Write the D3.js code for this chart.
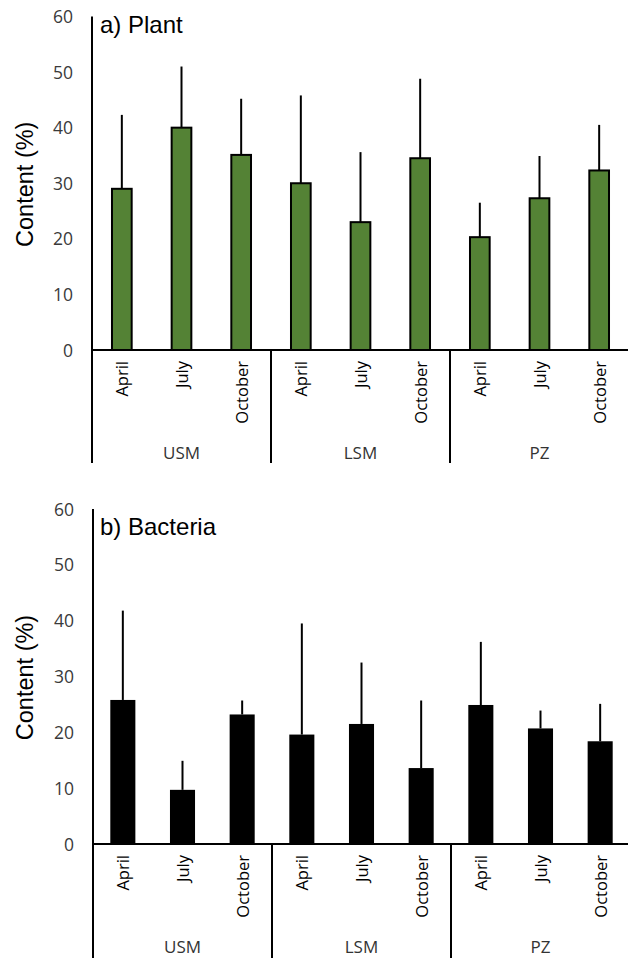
<!DOCTYPE html>
<html>
<head>
<meta charset="utf-8">
<script src="https://cdn.jsdelivr.net/npm/d3@7/dist/d3.min.js"></script>
<style>
  html, body { margin: 0; padding: 0; background: #fff; }
  svg { display: block; }
</style>
</head>
<body>
<svg id="chart" width="628" height="958"></svg>
<script>
// ---- data ----
const sites = ["USM", "LSM", "PZ"];
const months = ["April", "July", "October"];
const yTicks = [0, 10, 20, 30, 40, 50, 60];

// a) Plant: mean and upper error (SD)
const plantMean = [29.0, 40.0, 35.1, 30.0, 23.0, 34.5, 20.3, 27.3, 32.3];
const plantErr  = [13.3, 11.0, 10.1, 15.8, 12.6, 14.3, 6.2, 7.6, 8.2];

// b) Bacteria: mean and upper error (SD)
const bactMean = [25.8, 9.7, 23.2, 19.6, 21.5, 13.6, 24.9, 20.7, 18.4];
const bactErr  = [16.0, 5.2, 2.5, 19.9, 11.0, 12.1, 11.3, 3.2, 6.7];

const panels = [
  { title: "a) Plant", mean: plantMean, err: plantErr, fill: "#548235", stroke: "#000", strokeW: 2,
    top: 16.5, zero: 350, left: 92, bottom: 463, titleY: 33, barRatio: 0.33 },
  { title: "b) Bacteria", mean: bactMean, err: bactErr, fill: "#000", stroke: "#000", strokeW: 0,
    top: 509, zero: 844, left: 93, bottom: 958, titleY: 535, barRatio: 0.42 }
];

const svg = d3.select("#chart");
const groupW = 179;
const keys = [];
sites.forEach(s => months.forEach(m => keys.push(s + "|" + m)));

panels.forEach(p => {
  const g = svg.append("g");
  const right = p.left + groupW * sites.length;
  const y = d3.scaleLinear().domain([0, 60]).range([p.zero, p.top]);
  const x = d3.scaleBand().domain(keys).range([p.left, right]).paddingInner(0).paddingOuter(0);
  const xs = d3.scaleBand().domain(sites).range([p.left, right]);
  const bw = x.bandwidth() * p.barRatio;

  // y tick labels
  const yAxis = d3.axisLeft(y).tickValues(yTicks).tickSize(0).tickPadding(0);
  const ya = g.append("g").attr("transform", `translate(${p.left - 19},0)`).call(yAxis);
  ya.select(".domain").remove();
  ya.attr("font-size", null).attr("font-family", null);
  ya.selectAll("text")
    .style("font-family", "'Open Sans', sans-serif")
    .style("font-size", "17.5px")
    .attr("fill", "#3a3a3a")
    .attr("dy", "0.35em");

  // y axis title
  g.append("text")
    .attr("transform", `translate(${25},${(p.zero + p.top) / 2 + 1}) rotate(-90)`)
    .attr("text-anchor", "middle")
    .attr("dominant-baseline", "central")
    .attr("font-family", "'Liberation Sans', Arial, sans-serif")
    .attr("font-size", 23.5)
    .attr("fill", "#000")
    .text("Content (%)");

  // panel title
  g.append("text")
    .attr("x", 100).attr("y", p.titleY)
    .attr("font-family", "'Liberation Sans', Arial, sans-serif")
    .attr("font-size", 24)
    .attr("fill", "#000")
    .text(p.title);

  // error bars (upper only)
  g.selectAll("line.err").data(keys).join("line")
    .attr("class", "err")
    .attr("x1", d => x(d) + x.bandwidth() / 2)
    .attr("x2", d => x(d) + x.bandwidth() / 2)
    .attr("y1", (d, i) => y(p.mean[i]))
    .attr("y2", (d, i) => y(p.mean[i] + p.err[i]))
    .attr("stroke", "#000").attr("stroke-width", 2);

  // bars
  g.selectAll("rect.bar").data(keys).join("rect")
    .attr("class", "bar")
    .attr("x", d => x(d) + (x.bandwidth() - bw) / 2)
    .attr("width", bw)
    .attr("y", (d, i) => y(p.mean[i]))
    .attr("height", (d, i) => y(0) - y(p.mean[i]))
    .attr("fill", p.fill)
    .attr("stroke", p.strokeW ? p.stroke : "none")
    .attr("stroke-width", p.strokeW);

  // y axis line
  g.append("line")
    .attr("x1", p.left).attr("x2", p.left)
    .attr("y1", p.top).attr("y2", p.bottom)
    .attr("stroke", "#000").attr("stroke-width", 2);

  // baseline
  g.append("line")
    .attr("x1", p.left).attr("x2", 628)
    .attr("y1", y(0)).attr("y2", y(0))
    .attr("stroke", "#000").attr("stroke-width", 2);

  // group separators
  g.selectAll("line.sep").data(sites.slice(1)).join("line")
    .attr("class", "sep")
    .attr("x1", d => xs(d)).attr("x2", d => xs(d))
    .attr("y1", y(0)).attr("y2", p.bottom)
    .attr("stroke", "#000").attr("stroke-width", 2);

  // month labels
  g.selectAll("text.month").data(keys).join("text")
    .attr("class", "month")
    .attr("transform", d => `translate(${x(d) + x.bandwidth() / 2},${y(0) + 11}) rotate(-90)`)
    .attr("text-anchor", "end")
    .attr("dominant-baseline", "central")
    .attr("font-family", "'Open Sans', sans-serif")
    .attr("font-size", 16.5)
    .attr("fill", "#000")
    .text(d => d.split("|")[1]);

  // site labels
  g.selectAll("text.site").data(sites).join("text")
    .attr("class", "site")
    .attr("x", d => xs(d) + xs.bandwidth() / 2)
    .attr("y", y(0) + 102)
    .attr("text-anchor", "middle")
    .attr("dominant-baseline", "central")
    .attr("font-family", "'Open Sans', sans-serif")
    .attr("font-size", 17)
    .attr("fill", "#333")
    .text(d => d);
});
</script>
</body>
</html>
